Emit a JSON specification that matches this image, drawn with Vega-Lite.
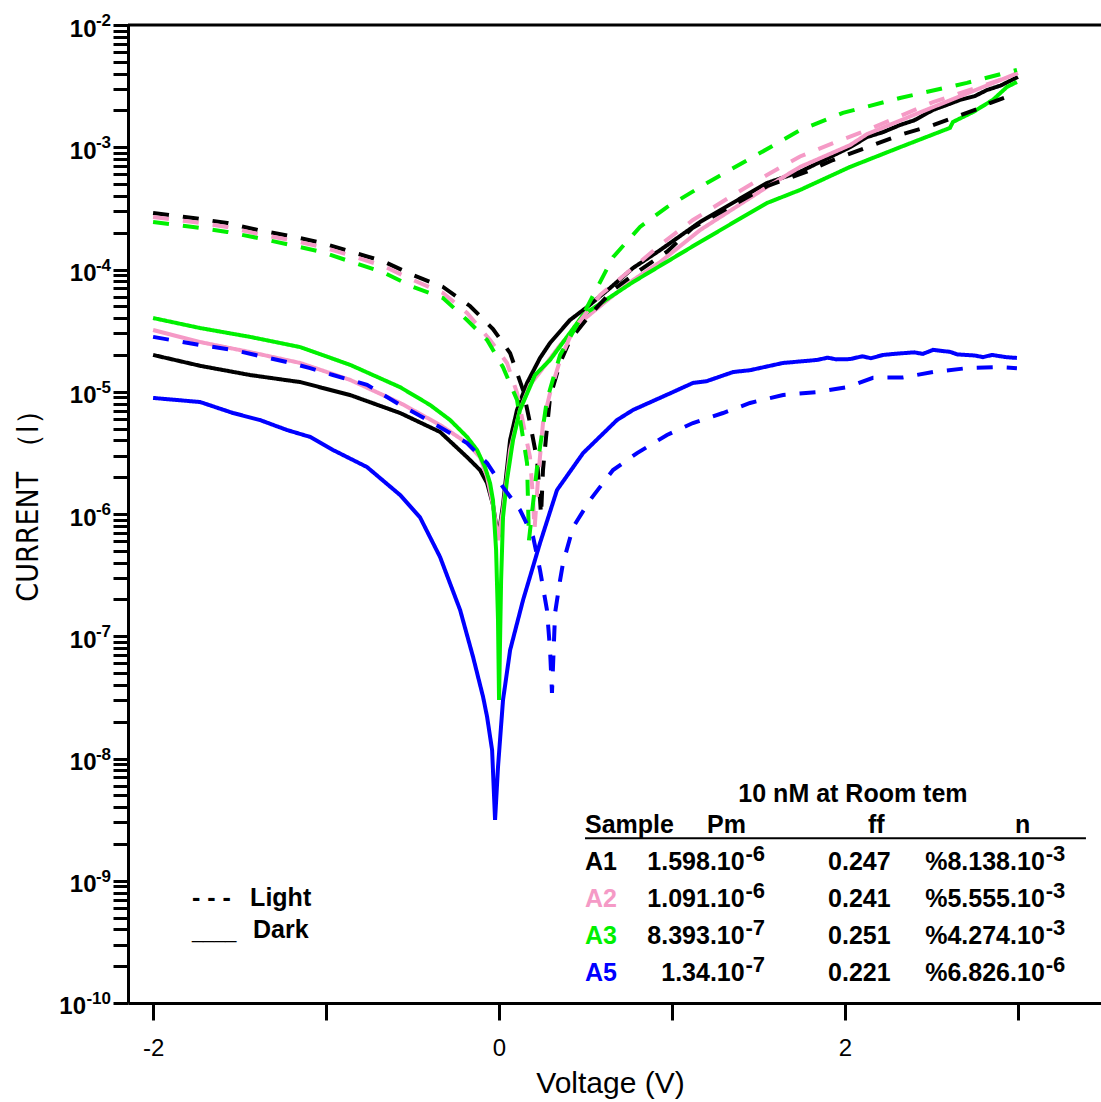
{
  "$schema": "https://vega.github.io/schema/vega-lite/v6.json",
  "width": 973,
  "height": 978,
  "autosize": {"type": "none"},
  "padding": {"left": 128, "top": 25, "right": 0, "bottom": 99},
  "background": "white",
  "config": {"view": {"stroke": null}, "font": "Liberation Sans, Arial, sans-serif"},
  "datasets": {
    "curves": [
      {"sample":"A1","mode":"Dark","V":-2.0,"I":2.0e-5},
      {"sample":"A1","mode":"Dark","V":-1.728,"I":1.63e-5},
      {"sample":"A1","mode":"Dark","V":-1.439,"I":1.37e-5},
      {"sample":"A1","mode":"Dark","V":-1.15,"I":1.2e-5},
      {"sample":"A1","mode":"Dark","V":-0.861,"I":9.4e-6},
      {"sample":"A1","mode":"Dark","V":-0.572,"I":6.7e-6},
      {"sample":"A1","mode":"Dark","V":-0.341,"I":4.69e-6},
      {"sample":"A1","mode":"Dark","V":-0.185,"I":2.92e-6},
      {"sample":"A1","mode":"Dark","V":-0.11,"I":2.29e-6},
      {"sample":"A1","mode":"Dark","V":-0.069,"I":1.79e-6},
      {"sample":"A1","mode":"Dark","V":-0.035,"I":1.19e-6},
      {"sample":"A1","mode":"Dark","V":-0.012,"I":7.4e-7},
      {"sample":"A1","mode":"Dark","V":-0.004,"I":6.5e-7},
      {"sample":"A1","mode":"Dark","V":0.023,"I":1.19e-6},
      {"sample":"A1","mode":"Dark","V":0.064,"I":4.03e-6},
      {"sample":"A1","mode":"Dark","V":0.104,"I":7.1e-6},
      {"sample":"A1","mode":"Dark","V":0.162,"I":1.18e-5},
      {"sample":"A1","mode":"Dark","V":0.237,"I":1.89e-5},
      {"sample":"A1","mode":"Dark","V":0.295,"I":2.51e-5},
      {"sample":"A1","mode":"Dark","V":0.41,"I":3.86e-5},
      {"sample":"A1","mode":"Dark","V":0.509,"I":4.93e-5},
      {"sample":"A1","mode":"Dark","V":0.642,"I":7.06e-5},
      {"sample":"A1","mode":"Dark","V":0.775,"I":1.03e-4},
      {"sample":"A1","mode":"Dark","V":0.931,"I":1.44e-4},
      {"sample":"A1","mode":"Dark","V":1.162,"I":2.45e-4},
      {"sample":"A1","mode":"Dark","V":1.549,"I":5.1e-4},
      {"sample":"A1","mode":"Dark","V":1.74,"I":6.3e-4},
      {"sample":"A1","mode":"Dark","V":2.029,"I":1.0e-3},
      {"sample":"A1","mode":"Dark","V":2.127,"I":1.21e-3},
      {"sample":"A1","mode":"Dark","V":2.22,"I":1.33e-3},
      {"sample":"A1","mode":"Dark","V":2.318,"I":1.52e-3},
      {"sample":"A1","mode":"Dark","V":2.4,"I":1.66e-3},
      {"sample":"A1","mode":"Dark","V":2.509,"I":2.02e-3},
      {"sample":"A1","mode":"Dark","V":2.6,"I":2.25e-3},
      {"sample":"A1","mode":"Dark","V":2.665,"I":2.44e-3},
      {"sample":"A1","mode":"Dark","V":2.75,"I":2.62e-3},
      {"sample":"A1","mode":"Dark","V":2.821,"I":2.94e-3},
      {"sample":"A1","mode":"Dark","V":2.9,"I":3.2e-3},
      {"sample":"A1","mode":"Dark","V":3.0,"I":3.76e-3},

      {"sample":"A2","mode":"Dark","V":-2.0,"I":3.2e-5},
      {"sample":"A2","mode":"Dark","V":-1.728,"I":2.55e-5},
      {"sample":"A2","mode":"Dark","V":-1.439,"I":2.11e-5},
      {"sample":"A2","mode":"Dark","V":-1.15,"I":1.72e-5},
      {"sample":"A2","mode":"Dark","V":-0.861,"I":1.25e-5},
      {"sample":"A2","mode":"Dark","V":-0.572,"I":8.1e-6},
      {"sample":"A2","mode":"Dark","V":-0.341,"I":5.35e-6},
      {"sample":"A2","mode":"Dark","V":-0.185,"I":3.81e-6},
      {"sample":"A2","mode":"Dark","V":-0.11,"I":2.92e-6},
      {"sample":"A2","mode":"Dark","V":-0.069,"I":2.01e-6},
      {"sample":"A2","mode":"Dark","V":-0.035,"I":1.19e-6},
      {"sample":"A2","mode":"Dark","V":-0.006,"I":6.1e-7},
      {"sample":"A2","mode":"Dark","V":0.023,"I":1.08e-6},
      {"sample":"A2","mode":"Dark","V":0.064,"I":3.34e-6},
      {"sample":"A2","mode":"Dark","V":0.121,"I":7.1e-6},
      {"sample":"A2","mode":"Dark","V":0.179,"I":1.14e-5},
      {"sample":"A2","mode":"Dark","V":0.237,"I":1.45e-5},
      {"sample":"A2","mode":"Dark","V":0.353,"I":2.41e-5},
      {"sample":"A2","mode":"Dark","V":0.486,"I":3.86e-5},
      {"sample":"A2","mode":"Dark","V":0.642,"I":5.85e-5},
      {"sample":"A2","mode":"Dark","V":0.775,"I":8.2e-5},
      {"sample":"A2","mode":"Dark","V":0.931,"I":1.15e-4},
      {"sample":"A2","mode":"Dark","V":1.162,"I":2.1e-4},
      {"sample":"A2","mode":"Dark","V":1.549,"I":4.73e-4},
      {"sample":"A2","mode":"Dark","V":1.74,"I":6.9e-4},
      {"sample":"A2","mode":"Dark","V":2.029,"I":1.04e-3},
      {"sample":"A2","mode":"Dark","V":2.127,"I":1.28e-3},
      {"sample":"A2","mode":"Dark","V":2.509,"I":2.13e-3},
      {"sample":"A2","mode":"Dark","V":3.0,"I":4.05e-3},

      {"sample":"A3","mode":"Dark","V":-2.0,"I":4.01e-5},
      {"sample":"A3","mode":"Dark","V":-1.728,"I":3.32e-5},
      {"sample":"A3","mode":"Dark","V":-1.439,"I":2.81e-5},
      {"sample":"A3","mode":"Dark","V":-1.15,"I":2.32e-5},
      {"sample":"A3","mode":"Dark","V":-0.861,"I":1.66e-5},
      {"sample":"A3","mode":"Dark","V":-0.572,"I":1.09e-5},
      {"sample":"A3","mode":"Dark","V":-0.399,"I":7.8e-6},
      {"sample":"A3","mode":"Dark","V":-0.283,"I":5.87e-6},
      {"sample":"A3","mode":"Dark","V":-0.185,"I":4.27e-6},
      {"sample":"A3","mode":"Dark","V":-0.127,"I":3.34e-6},
      {"sample":"A3","mode":"Dark","V":-0.081,"I":2.42e-6},
      {"sample":"A3","mode":"Dark","V":-0.052,"I":1.79e-6},
      {"sample":"A3","mode":"Dark","V":-0.035,"I":1.3e-6},
      {"sample":"A3","mode":"Dark","V":-0.017,"I":5.08e-7},
      {"sample":"A3","mode":"Dark","V":-0.006,"I":1.36e-7},
      {"sample":"A3","mode":"Dark","V":0.0,"I":3.01e-8},
      {"sample":"A3","mode":"Dark","V":0.006,"I":9.3e-8},
      {"sample":"A3","mode":"Dark","V":0.012,"I":2.88e-7},
      {"sample":"A3","mode":"Dark","V":0.023,"I":9.4e-7},
      {"sample":"A3","mode":"Dark","V":0.046,"I":1.9e-6},
      {"sample":"A3","mode":"Dark","V":0.081,"I":4.03e-6},
      {"sample":"A3","mode":"Dark","V":0.121,"I":7.1e-6},
      {"sample":"A3","mode":"Dark","V":0.208,"I":1.37e-5},
      {"sample":"A3","mode":"Dark","V":0.295,"I":1.82e-5},
      {"sample":"A3","mode":"Dark","V":0.486,"I":4.25e-5},
      {"sample":"A3","mode":"Dark","V":0.775,"I":7.9e-5},
      {"sample":"A3","mode":"Dark","V":1.162,"I":1.68e-4},
      {"sample":"A3","mode":"Dark","V":1.549,"I":3.5e-4},
      {"sample":"A3","mode":"Dark","V":1.74,"I":4.47e-4},
      {"sample":"A3","mode":"Dark","V":2.029,"I":6.9e-4},
      {"sample":"A3","mode":"Dark","V":2.318,"I":1.0e-3},
      {"sample":"A3","mode":"Dark","V":2.607,"I":1.44e-3},
      {"sample":"A3","mode":"Dark","V":2.624,"I":1.61e-3},
      {"sample":"A3","mode":"Dark","V":2.74,"I":1.94e-3},
      {"sample":"A3","mode":"Dark","V":2.855,"I":2.44e-3},
      {"sample":"A3","mode":"Dark","V":2.936,"I":3.11e-3},
      {"sample":"A3","mode":"Dark","V":2.994,"I":3.42e-3},

      {"sample":"A5","mode":"Dark","V":-2.0,"I":8.9e-6},
      {"sample":"A5","mode":"Dark","V":-1.728,"I":8.24e-6},
      {"sample":"A5","mode":"Dark","V":-1.538,"I":6.7e-6},
      {"sample":"A5","mode":"Dark","V":-1.382,"I":5.87e-6},
      {"sample":"A5","mode":"Dark","V":-1.225,"I":4.86e-6},
      {"sample":"A5","mode":"Dark","V":-1.092,"I":4.27e-6},
      {"sample":"A5","mode":"Dark","V":-0.96,"I":3.34e-6},
      {"sample":"A5","mode":"Dark","V":-0.763,"I":2.42e-6},
      {"sample":"A5","mode":"Dark","V":-0.572,"I":1.43e-6},
      {"sample":"A5","mode":"Dark","V":-0.457,"I":9.4e-7},
      {"sample":"A5","mode":"Dark","V":-0.341,"I":4.45e-7},
      {"sample":"A5","mode":"Dark","V":-0.225,"I":1.64e-7},
      {"sample":"A5","mode":"Dark","V":-0.15,"I":6.76e-8},
      {"sample":"A5","mode":"Dark","V":-0.092,"I":3.18e-8},
      {"sample":"A5","mode":"Dark","V":-0.069,"I":2.19e-8},
      {"sample":"A5","mode":"Dark","V":-0.04,"I":1.17e-8},
      {"sample":"A5","mode":"Dark","V":-0.023,"I":3.14e-9},
      {"sample":"A5","mode":"Dark","V":-0.006,"I":8.5e-9},
      {"sample":"A5","mode":"Dark","V":0.023,"I":3.01e-8},
      {"sample":"A5","mode":"Dark","V":0.064,"I":7.7e-8},
      {"sample":"A5","mode":"Dark","V":0.139,"I":1.98e-7},
      {"sample":"A5","mode":"Dark","V":0.237,"I":5.79e-7},
      {"sample":"A5","mode":"Dark","V":0.335,"I":1.57e-6},
      {"sample":"A5","mode":"Dark","V":0.486,"I":3.15e-6},
      {"sample":"A5","mode":"Dark","V":0.682,"I":5.87e-6},
      {"sample":"A5","mode":"Dark","V":0.775,"I":7.1e-6},
      {"sample":"A5","mode":"Dark","V":1.006,"I":9.95e-6},
      {"sample":"A5","mode":"Dark","V":1.121,"I":1.18e-5},
      {"sample":"A5","mode":"Dark","V":1.2,"I":1.22e-5},
      {"sample":"A5","mode":"Dark","V":1.353,"I":1.45e-5},
      {"sample":"A5","mode":"Dark","V":1.45,"I":1.5e-5},
      {"sample":"A5","mode":"Dark","V":1.642,"I":1.72e-5},
      {"sample":"A5","mode":"Dark","V":1.838,"I":1.82e-5},
      {"sample":"A5","mode":"Dark","V":1.9,"I":1.9e-5},
      {"sample":"A5","mode":"Dark","V":1.95,"I":1.84e-5},
      {"sample":"A5","mode":"Dark","V":2.029,"I":1.85e-5},
      {"sample":"A5","mode":"Dark","V":2.1,"I":1.95e-5},
      {"sample":"A5","mode":"Dark","V":2.15,"I":1.88e-5},
      {"sample":"A5","mode":"Dark","V":2.22,"I":2.0e-5},
      {"sample":"A5","mode":"Dark","V":2.3,"I":2.05e-5},
      {"sample":"A5","mode":"Dark","V":2.4,"I":2.1e-5},
      {"sample":"A5","mode":"Dark","V":2.45,"I":2.04e-5},
      {"sample":"A5","mode":"Dark","V":2.509,"I":2.2e-5},
      {"sample":"A5","mode":"Dark","V":2.607,"I":2.12e-5},
      {"sample":"A5","mode":"Dark","V":2.65,"I":2.02e-5},
      {"sample":"A5","mode":"Dark","V":2.75,"I":1.98e-5},
      {"sample":"A5","mode":"Dark","V":2.798,"I":1.92e-5},
      {"sample":"A5","mode":"Dark","V":2.85,"I":2.0e-5},
      {"sample":"A5","mode":"Dark","V":2.93,"I":1.92e-5},
      {"sample":"A5","mode":"Dark","V":2.994,"I":1.89e-5},

      {"sample":"A1","mode":"Light","V":-2.0,"I":2.9e-4},
      {"sample":"A1","mode":"Light","V":-1.769,"I":2.64e-4},
      {"sample":"A1","mode":"Light","V":-1.572,"I":2.4e-4},
      {"sample":"A1","mode":"Light","V":-1.393,"I":2.1e-4},
      {"sample":"A1","mode":"Light","V":-1.208,"I":1.88e-4},
      {"sample":"A1","mode":"Light","V":-1.023,"I":1.65e-4},
      {"sample":"A1","mode":"Light","V":-0.85,"I":1.39e-4},
      {"sample":"A1","mode":"Light","V":-0.671,"I":1.17e-4},
      {"sample":"A1","mode":"Light","V":-0.497,"I":9.0e-5},
      {"sample":"A1","mode":"Light","V":-0.324,"I":7.2e-5},
      {"sample":"A1","mode":"Light","V":-0.168,"I":5.03e-5},
      {"sample":"A1","mode":"Light","V":-0.035,"I":3.26e-5},
      {"sample":"A1","mode":"Light","V":0.064,"I":2.07e-5},
      {"sample":"A1","mode":"Light","V":0.139,"I":1.03e-5},
      {"sample":"A1","mode":"Light","V":0.179,"I":5.55e-6},
      {"sample":"A1","mode":"Light","V":0.22,"I":2.77e-6},
      {"sample":"A1","mode":"Light","V":0.237,"I":1.3e-6},
      {"sample":"A1","mode":"Light","V":0.243,"I":9.8e-7},
      {"sample":"A1","mode":"Light","V":0.254,"I":2.29e-6},
      {"sample":"A1","mode":"Light","V":0.272,"I":4.27e-6},
      {"sample":"A1","mode":"Light","V":0.295,"I":9.06e-6},
      {"sample":"A1","mode":"Light","V":0.353,"I":1.72e-5},
      {"sample":"A1","mode":"Light","V":0.41,"I":2.65e-5},
      {"sample":"A1","mode":"Light","V":0.526,"I":4.25e-5},
      {"sample":"A1","mode":"Light","V":0.659,"I":6.8e-5},
      {"sample":"A1","mode":"Light","V":0.815,"I":9.9e-5},
      {"sample":"A1","mode":"Light","V":0.971,"I":1.4e-4},
      {"sample":"A1","mode":"Light","V":1.121,"I":2.2e-4},
      {"sample":"A1","mode":"Light","V":1.549,"I":4.8e-4},
      {"sample":"A1","mode":"Light","V":1.775,"I":6.28e-4},
      {"sample":"A1","mode":"Light","V":1.931,"I":7.86e-4},
      {"sample":"A1","mode":"Light","V":2.318,"I":1.26e-3},
      {"sample":"A1","mode":"Light","V":2.509,"I":1.52e-3},
      {"sample":"A1","mode":"Light","V":2.78,"I":2.09e-3},
      {"sample":"A1","mode":"Light","V":2.838,"I":2.3e-3},
      {"sample":"A1","mode":"Light","V":2.936,"I":2.58e-3},
      {"sample":"A1","mode":"Light","V":2.994,"I":2.44e-3},

      {"sample":"A2","mode":"Light","V":-2.0,"I":2.69e-4},
      {"sample":"A2","mode":"Light","V":-1.769,"I":2.45e-4},
      {"sample":"A2","mode":"Light","V":-1.572,"I":2.23e-4},
      {"sample":"A2","mode":"Light","V":-1.393,"I":1.95e-4},
      {"sample":"A2","mode":"Light","V":-1.208,"I":1.74e-4},
      {"sample":"A2","mode":"Light","V":-1.023,"I":1.53e-4},
      {"sample":"A2","mode":"Light","V":-0.85,"I":1.29e-4},
      {"sample":"A2","mode":"Light","V":-0.671,"I":1.07e-4},
      {"sample":"A2","mode":"Light","V":-0.497,"I":8.2e-5},
      {"sample":"A2","mode":"Light","V":-0.324,"I":6.43e-5},
      {"sample":"A2","mode":"Light","V":-0.185,"I":4.41e-5},
      {"sample":"A2","mode":"Light","V":-0.052,"I":2.65e-5},
      {"sample":"A2","mode":"Light","V":0.046,"I":1.72e-5},
      {"sample":"A2","mode":"Light","V":0.104,"I":9.8e-6},
      {"sample":"A2","mode":"Light","V":0.139,"I":5.55e-6},
      {"sample":"A2","mode":"Light","V":0.179,"I":2.92e-6},
      {"sample":"A2","mode":"Light","V":0.197,"I":1.3e-6},
      {"sample":"A2","mode":"Light","V":0.205,"I":7.4e-7},
      {"sample":"A2","mode":"Light","V":0.225,"I":1.9e-6},
      {"sample":"A2","mode":"Light","V":0.254,"I":5.55e-6},
      {"sample":"A2","mode":"Light","V":0.295,"I":9.8e-6},
      {"sample":"A2","mode":"Light","V":0.353,"I":1.82e-5},
      {"sample":"A2","mode":"Light","V":0.428,"I":3.2e-5},
      {"sample":"A2","mode":"Light","V":0.584,"I":6.18e-5},
      {"sample":"A2","mode":"Light","V":0.815,"I":1.15e-4},
      {"sample":"A2","mode":"Light","V":0.931,"I":1.59e-4},
      {"sample":"A2","mode":"Light","V":1.121,"I":2.54e-4},
      {"sample":"A2","mode":"Light","V":1.353,"I":4.07e-4},
      {"sample":"A2","mode":"Light","V":1.549,"I":5.93e-4},
      {"sample":"A2","mode":"Light","V":1.74,"I":8.4e-4},
      {"sample":"A2","mode":"Light","V":1.931,"I":1.08e-3},
      {"sample":"A2","mode":"Light","V":2.127,"I":1.38e-3},
      {"sample":"A2","mode":"Light","V":2.509,"I":2.34e-3},
      {"sample":"A2","mode":"Light","V":2.896,"I":3.55e-3},
      {"sample":"A2","mode":"Light","V":2.994,"I":4.05e-3},

      {"sample":"A3","mode":"Light","V":-2.0,"I":2.45e-4},
      {"sample":"A3","mode":"Light","V":-1.769,"I":2.23e-4},
      {"sample":"A3","mode":"Light","V":-1.572,"I":2.03e-4},
      {"sample":"A3","mode":"Light","V":-1.393,"I":1.81e-4},
      {"sample":"A3","mode":"Light","V":-1.208,"I":1.59e-4},
      {"sample":"A3","mode":"Light","V":-1.023,"I":1.39e-4},
      {"sample":"A3","mode":"Light","V":-0.85,"I":1.15e-4},
      {"sample":"A3","mode":"Light","V":-0.671,"I":9.5e-5},
      {"sample":"A3","mode":"Light","V":-0.497,"I":7.2e-5},
      {"sample":"A3","mode":"Light","V":-0.324,"I":5.85e-5},
      {"sample":"A3","mode":"Light","V":-0.185,"I":3.86e-5},
      {"sample":"A3","mode":"Light","V":-0.069,"I":2.65e-5},
      {"sample":"A3","mode":"Light","V":0.023,"I":1.59e-5},
      {"sample":"A3","mode":"Light","V":0.104,"I":8.57e-6},
      {"sample":"A3","mode":"Light","V":0.162,"I":2.61e-6},
      {"sample":"A3","mode":"Light","V":0.173,"I":6.1e-7},
      {"sample":"A3","mode":"Light","V":0.22,"I":2.42e-6},
      {"sample":"A3","mode":"Light","V":0.277,"I":8.57e-6},
      {"sample":"A3","mode":"Light","V":0.353,"I":2.0e-5},
      {"sample":"A3","mode":"Light","V":0.509,"I":4.93e-5},
      {"sample":"A3","mode":"Light","V":0.659,"I":1.26e-4},
      {"sample":"A3","mode":"Light","V":0.815,"I":2.23e-4},
      {"sample":"A3","mode":"Light","V":0.971,"I":3.24e-4},
      {"sample":"A3","mode":"Light","V":1.202,"I":5.1e-4},
      {"sample":"A3","mode":"Light","V":1.468,"I":8.32e-4},
      {"sample":"A3","mode":"Light","V":1.74,"I":1.38e-3},
      {"sample":"A3","mode":"Light","V":1.988,"I":1.91e-3},
      {"sample":"A3","mode":"Light","V":2.318,"I":2.53e-3},
      {"sample":"A3","mode":"Light","V":2.705,"I":3.36e-3},
      {"sample":"A3","mode":"Light","V":2.994,"I":4.29e-3},

      {"sample":"A5","mode":"Light","V":-2.0,"I":2.81e-5},
      {"sample":"A5","mode":"Light","V":-1.728,"I":2.41e-5},
      {"sample":"A5","mode":"Light","V":-1.538,"I":2.2e-5},
      {"sample":"A5","mode":"Light","V":-1.382,"I":1.96e-5},
      {"sample":"A5","mode":"Light","V":-1.225,"I":1.75e-5},
      {"sample":"A5","mode":"Light","V":-1.092,"I":1.56e-5},
      {"sample":"A5","mode":"Light","V":-0.96,"I":1.37e-5},
      {"sample":"A5","mode":"Light","V":-0.763,"I":1.14e-5},
      {"sample":"A5","mode":"Light","V":-0.572,"I":7.8e-6},
      {"sample":"A5","mode":"Light","V":-0.382,"I":5.55e-6},
      {"sample":"A5","mode":"Light","V":-0.185,"I":3.81e-6},
      {"sample":"A5","mode":"Light","V":-0.069,"I":2.61e-6},
      {"sample":"A5","mode":"Light","V":0.023,"I":1.66e-6},
      {"sample":"A5","mode":"Light","V":0.121,"I":1.08e-6},
      {"sample":"A5","mode":"Light","V":0.197,"I":6.5e-7},
      {"sample":"A5","mode":"Light","V":0.237,"I":3.48e-7},
      {"sample":"A5","mode":"Light","V":0.277,"I":1.64e-7},
      {"sample":"A5","mode":"Light","V":0.295,"I":7.7e-8},
      {"sample":"A5","mode":"Light","V":0.306,"I":3.44e-8},
      {"sample":"A5","mode":"Light","V":0.324,"I":1.55e-7},
      {"sample":"A5","mode":"Light","V":0.353,"I":2.88e-7},
      {"sample":"A5","mode":"Light","V":0.37,"I":3.97e-7},
      {"sample":"A5","mode":"Light","V":0.428,"I":7.8e-7},
      {"sample":"A5","mode":"Light","V":0.526,"I":1.3e-6},
      {"sample":"A5","mode":"Light","V":0.659,"I":2.29e-6},
      {"sample":"A5","mode":"Light","V":0.798,"I":3.15e-6},
      {"sample":"A5","mode":"Light","V":0.971,"I":4.43e-6},
      {"sample":"A5","mode":"Light","V":1.121,"I":5.55e-6},
      {"sample":"A5","mode":"Light","V":1.295,"I":6.7e-6},
      {"sample":"A5","mode":"Light","V":1.451,"I":8.1e-6},
      {"sample":"A5","mode":"Light","V":1.642,"I":9.4e-6},
      {"sample":"A5","mode":"Light","V":1.838,"I":9.95e-6},
      {"sample":"A5","mode":"Light","V":2.012,"I":1.09e-5},
      {"sample":"A5","mode":"Light","V":2.162,"I":1.3e-5},
      {"sample":"A5","mode":"Light","V":2.335,"I":1.31e-5},
      {"sample":"A5","mode":"Light","V":2.509,"I":1.45e-5},
      {"sample":"A5","mode":"Light","V":2.705,"I":1.56e-5},
      {"sample":"A5","mode":"Light","V":2.879,"I":1.59e-5},
      {"sample":"A5","mode":"Light","V":2.994,"I":1.56e-5}
    ],
    "decades": [
      {"I":1e-2,"e":"-2"},{"I":1e-3,"e":"-3"},{"I":1e-4,"e":"-4"},{"I":1e-5,"e":"-5"},
      {"I":1e-6,"e":"-6"},{"I":1e-7,"e":"-7"},{"I":1e-8,"e":"-8"},{"I":1e-9,"e":"-9"}
    ],
    "table": [
      {"sample":"A1","row":1,"pm":"1.598.10","pm_e":"-6","ff":"0.247","n":"%8.138.10","n_e":"-3"},
      {"sample":"A2","row":2,"pm":"1.091.10","pm_e":"-6","ff":"0.241","n":"%5.555.10","n_e":"-3"},
      {"sample":"A3","row":3,"pm":"8.393.10","pm_e":"-7","ff":"0.251","n":"%4.274.10","n_e":"-3"},
      {"sample":"A5","row":4,"pm":"1.34.10","pm_e":"-7","ff":"0.221","n":"%6.826.10","n_e":"-6"}
    ]
  },
  "layer": [
    {
      "layer": [
        {
          "data": {"name": "curves"},
          "mark": {"type": "line", "strokeWidth": 4, "strokeCap": "butt"},
          "encoding": {
            "x": {
              "field": "V", "type": "quantitative",
              "scale": {"domain": [-2.145, 3.48], "nice": false, "zero": false},
              "axis": {
                "values": [-2, -1, 0, 1, 2, 3],
                "labelExpr": "datum.value == -2 ? '-2' : datum.value == 0 ? '0' : datum.value == 2 ? '2' : ''",
                "grid": false, "tickSize": 17, "tickWidth": 3, "tickColor": "black",
                "domainColor": "black", "domainWidth": 3,
                "labelFont": "Liberation Sans", "labelFontSize": 24, "labelColor": "black",
                "labelPadding": 16, "labelFlush": false, "labelOverlap": false,
                "title": "Voltage (V)", "titleFont": "Liberation Sans", "titleFontSize": 30,
                "titleFontWeight": "normal", "titleColor": "black",
                "titleX": 482, "titleY": 80, "titleAlign": "center", "titleBaseline": "middle"
              }
            },
            "y": {
              "field": "I", "type": "quantitative",
              "scale": {"type": "log", "domain": [1e-10, 1e-2], "nice": false},
              "axis": {
                "values": [1e-10,2e-10,3e-10,4e-10,5e-10,6e-10,7e-10,8e-10,9e-10,
                           1e-9,2e-9,3e-9,4e-9,5e-9,6e-9,7e-9,8e-9,9e-9,
                           1e-8,2e-8,3e-8,4e-8,5e-8,6e-8,7e-8,8e-8,9e-8,
                           1e-7,2e-7,3e-7,4e-7,5e-7,6e-7,7e-7,8e-7,9e-7,
                           1e-6,2e-6,3e-6,4e-6,5e-6,6e-6,7e-6,8e-6,9e-6,
                           1e-5,2e-5,3e-5,4e-5,5e-5,6e-5,7e-5,8e-5,9e-5,
                           1e-4,2e-4,3e-4,4e-4,5e-4,6e-4,7e-4,8e-4,9e-4,
                           1e-3,2e-3,3e-3,4e-3,5e-3,6e-3,7e-3,8e-3,9e-3,1e-2],
                "labelExpr": "datum.value > 5e-10 && abs(log(datum.value)/LN10 - round(log(datum.value)/LN10)) < 0.001 ? '10' : ''",
                "grid": false, "tickSize": 15, "tickWidth": 3, "tickColor": "black",
                "domainColor": "black", "domainWidth": 3,
                "labelFont": "Liberation Sans", "labelFontSize": 24, "labelFontWeight": "bold",
                "labelColor": "black", "labelPadding": 17, "labelOffset": 4, "labelOverlap": false, "labelFlush": false,
                "title": "CURRENT （I）",
                "titleFont": "Liberation Sans Narrow, DejaVu Sans Condensed, Liberation Sans",
                "titleFontSize": 30, "titleFontWeight": "normal", "titleColor": "black",
                "titleAngle": -90, "titleX": -100, "titleY": 473, "titleAlign": "center", "titleBaseline": "middle"
              }
            },
            "color": {
              "field": "sample", "type": "nominal",
              "scale": {"domain": ["A1", "A2", "A3", "A5"], "range": ["#000000", "#F59AC6", "#00F000", "#0000FF"]},
              "legend": null
            },
            "strokeDash": {
              "field": "mode", "type": "nominal",
              "scale": {"domain": ["Light", "Dark"], "range": [[16, 14], [1, 0]]},
              "legend": null
            }
          }
        },
        {
          "data": {"name": "decades"},
          "mark": {"type": "text", "align": "right", "baseline": "middle", "dx": -17, "dy": -4, "fontSize": 17, "fontWeight": "bold", "font": "Liberation Sans", "color": "black"},
          "encoding": {"x": {"datum": -2.145}, "y": {"field": "I", "type": "quantitative"}, "text": {"field": "e"}}
        },
        {
          "data": {"values": [{}]},
          "mark": {"type": "text", "text": "-10", "align": "right", "baseline": "middle", "dx": -17, "dy": -4, "fontSize": 17, "fontWeight": "bold", "font": "Liberation Sans", "color": "black"},
          "encoding": {"x": {"datum": -2.145}, "y": {"datum": 1e-10}}
        },
        {
          "data": {"values": [{}]},
          "mark": {"type": "text", "text": "10", "align": "right", "baseline": "middle", "dx": -42, "dy": 4, "fontSize": 24, "fontWeight": "bold", "font": "Liberation Sans", "color": "black"},
          "encoding": {"x": {"datum": -2.145}, "y": {"datum": 1e-10}}
        },
        {
          "data": {"values": [{}]},
          "mark": {"type": "rule", "strokeWidth": 3, "color": "black"},
          "encoding": {"y": {"datum": 0.01}}
        },
        {
          "data": {"values": [{}]},
          "mark": {"type": "text", "text": "- - -", "align": "left", "baseline": "middle", "fontSize": 25, "fontWeight": "bold", "font": "Liberation Sans", "color": "black"},
          "encoding": {"x": {"datum": -1.775}, "y": {"datum": 7.2e-10}}
        },
        {
          "data": {"values": [{}]},
          "mark": {"type": "text", "text": "Light", "align": "left", "baseline": "middle", "fontSize": 25, "fontWeight": "bold", "font": "Liberation Sans", "color": "black"},
          "encoding": {"x": {"datum": -1.439}, "y": {"datum": 7.2e-10}}
        },
        {
          "data": {"values": [{}]},
          "mark": {"type": "text", "text": "____", "align": "left", "baseline": "alphabetic", "fontSize": 20, "font": "Liberation Sans", "color": "black"},
          "encoding": {"x": {"datum": -1.775}, "y": {"datum": 3.4e-10}}
        },
        {
          "data": {"values": [{}]},
          "mark": {"type": "text", "text": "Dark", "align": "left", "baseline": "middle", "fontSize": 25, "fontWeight": "bold", "font": "Liberation Sans", "color": "black"},
          "encoding": {"x": {"datum": -1.422}, "y": {"datum": 3.95e-10}}
        }
      ]
    },
    {
      "layer": [
        {
          "data": {"values": [{}]},
          "mark": {"type": "text", "text": "10 nM at Room tem", "align": "center", "baseline": "middle", "fontSize": 25, "fontWeight": "bold", "font": "Liberation Sans", "color": "black"},
          "encoding": {"x": {"datum": 2.046}, "y": {"datum": -0.84, "type": "quantitative", "scale": {"domain": [-21.62, 4.81], "reverse": true, "nice": false, "zero": false}, "axis": null}}
        },
        {
          "data": {"values": [{}]},
          "mark": {"type": "text", "text": "Sample", "align": "left", "baseline": "middle", "fontSize": 25, "fontWeight": "bold", "font": "Liberation Sans", "color": "black"},
          "encoding": {"x": {"datum": 0.497}, "y": {"datum": 0}}
        },
        {
          "data": {"values": [{}]},
          "mark": {"type": "text", "text": "Pm", "align": "left", "baseline": "middle", "fontSize": 25, "fontWeight": "bold", "font": "Liberation Sans", "color": "black"},
          "encoding": {"x": {"datum": 1.202}, "y": {"datum": 0}}
        },
        {
          "data": {"values": [{}]},
          "mark": {"type": "text", "text": "ff", "align": "left", "baseline": "middle", "fontSize": 25, "fontWeight": "bold", "font": "Liberation Sans", "color": "black"},
          "encoding": {"x": {"datum": 2.133}, "y": {"datum": 0}}
        },
        {
          "data": {"values": [{}]},
          "mark": {"type": "text", "text": "n", "align": "left", "baseline": "middle", "fontSize": 25, "fontWeight": "bold", "font": "Liberation Sans", "color": "black"},
          "encoding": {"x": {"datum": 2.983}, "y": {"datum": 0}}
        },
        {
          "data": {"values": [{}]},
          "mark": {"type": "rule", "strokeWidth": 2, "color": "black"},
          "encoding": {"x": {"datum": 0.497}, "x2": {"datum": 3.393}, "y": {"datum": 0.36}}
        },
        {
          "data": {"name": "table"},
          "mark": {"type": "text", "align": "left", "baseline": "middle", "fontSize": 25, "fontWeight": "bold", "font": "Liberation Sans"},
          "encoding": {
            "x": {"datum": 0.497},
            "y": {"field": "row", "type": "quantitative"},
            "text": {"field": "sample"},
            "color": {"field": "sample", "type": "nominal", "legend": null}
          }
        },
        {
          "data": {"name": "table"},
          "mark": {"type": "text", "align": "right", "baseline": "middle", "fontSize": 25, "fontWeight": "bold", "font": "Liberation Sans", "color": "black"},
          "encoding": {"x": {"datum": 1.42}, "y": {"field": "row", "type": "quantitative"}, "text": {"field": "pm"}}
        },
        {
          "data": {"name": "table"},
          "mark": {"type": "text", "align": "left", "baseline": "middle", "dy": -8, "fontSize": 22, "fontWeight": "bold", "font": "Liberation Sans", "color": "black"},
          "encoding": {"x": {"datum": 1.425}, "y": {"field": "row", "type": "quantitative"}, "text": {"field": "pm_e"}}
        },
        {
          "data": {"name": "table"},
          "mark": {"type": "text", "align": "left", "baseline": "middle", "fontSize": 25, "fontWeight": "bold", "font": "Liberation Sans", "color": "black"},
          "encoding": {"x": {"datum": 1.902}, "y": {"field": "row", "type": "quantitative"}, "text": {"field": "ff"}}
        },
        {
          "data": {"name": "table"},
          "mark": {"type": "text", "align": "right", "baseline": "middle", "fontSize": 25, "fontWeight": "bold", "font": "Liberation Sans", "color": "black"},
          "encoding": {"x": {"datum": 3.155}, "y": {"field": "row", "type": "quantitative"}, "text": {"field": "n"}}
        },
        {
          "data": {"name": "table"},
          "mark": {"type": "text", "align": "left", "baseline": "middle", "dy": -8, "fontSize": 22, "fontWeight": "bold", "font": "Liberation Sans", "color": "black"},
          "encoding": {"x": {"datum": 3.16}, "y": {"field": "row", "type": "quantitative"}, "text": {"field": "n_e"}}
        }
      ]
    }
  ],
  "resolve": {"scale": {"y": "independent"}}
}
